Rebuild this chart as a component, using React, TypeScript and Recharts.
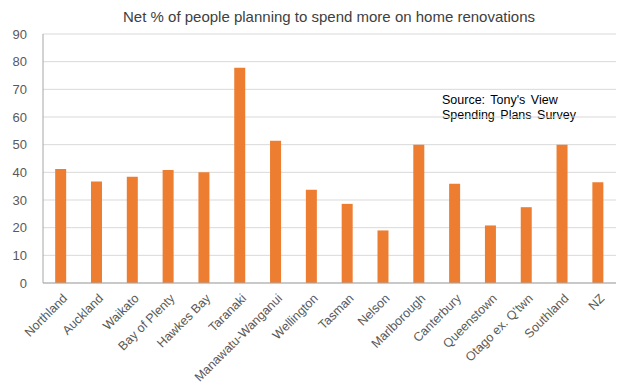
import { Bar, BarChart, CartesianGrid, XAxis, YAxis } from "recharts";

const regions = [
  "Northland",
  "Auckland",
  "Waikato",
  "Bay of Plenty",
  "Hawkes Bay",
  "Taranaki",
  "Manawatu-Wanganui",
  "Wellington",
  "Tasman",
  "Nelson",
  "Marlborough",
  "Canterbury",
  "Queenstown",
  "Otago ex. Q'twn",
  "Southland",
  "NZ",
];

const netPct = [41.2, 36.7, 38.4, 40.8, 40.0, 77.8, 51.4, 33.7, 28.6, 19.0, 50.0, 35.9, 20.8, 27.4, 50.0, 36.4];

const yTicks = [0, 10, 20, 30, 40, 50, 60, 70, 80, 90];

const data = regions.map((label, i) => ({ label, value: netPct[i] }));

const font = "'Liberation Sans', Arial, sans-serif";

function SlantTick({ x, y, payload }: any) {
  return (
    <g transform={`translate(${x + 4},${y + 5})`}>
      <text
        transform="rotate(-45)"
        textAnchor="end"
        dy="0.35em"
        fill="#595959"
        fontSize={12.5}
        fontFamily={font}
      >
        {payload.value}
      </text>
    </g>
  );
}

export default function App() {
  return (
    <div style={{ position: "absolute", left: 0, top: 0, width: 624, height: 387, background: "#fff" }}>
      <div
        style={{
          position: "absolute",
          top: 8,
          left: 0,
          width: 624,
          textAlign: "center",
          paddingLeft: 34,
          boxSizing: "border-box",
          fontFamily: font,
          fontSize: 15,
          color: "#404040",
        }}
      >
        Net % of people planning to spend more on home renovations
      </div>
      <div
        style={{
          position: "absolute",
          top: 93,
          left: 442,
          fontFamily: font,
          fontSize: 12.5,
          lineHeight: "15px",
          color: "#000",
          wordSpacing: 2,
        }}
      >
        Source: Tony's View
        <br />
        Spending Plans Survey
      </div>
      <BarChart
        width={624}
        height={387}
        data={data}
        margin={{ top: 34, right: 8, left: 0, bottom: 0 }}
        barCategoryGap="34%"
      >
        <CartesianGrid stroke="#d9d9d9" vertical={false} />
        <XAxis
          dataKey="label"
          interval={0}
          tickLine={false}
          axisLine={{ stroke: "#a6a6a6" }}
          height={104}
          tick={<SlantTick />}
        />
        <XAxis xAxisId="top" orientation="top" dataKey="label" height={0} tick={false} tickLine={false} axisLine={{ stroke: "#a6a6a6" }} />
        <YAxis
          domain={[0, 90]}
          ticks={yTicks}
          width={43}
          tickLine={false}
          axisLine={{ stroke: "#a6a6a6" }}
          tick={{ fill: "#595959", fontSize: 13, fontFamily: font }}
          tickMargin={10}
        />
        <YAxis yAxisId="right" orientation="right" width={0} tick={false} tickLine={false} axisLine={{ stroke: "#a6a6a6" }} />
        <Bar dataKey="value" fill="#ED7D31" isAnimationActive={false} />
      </BarChart>
    </div>
  );
}
